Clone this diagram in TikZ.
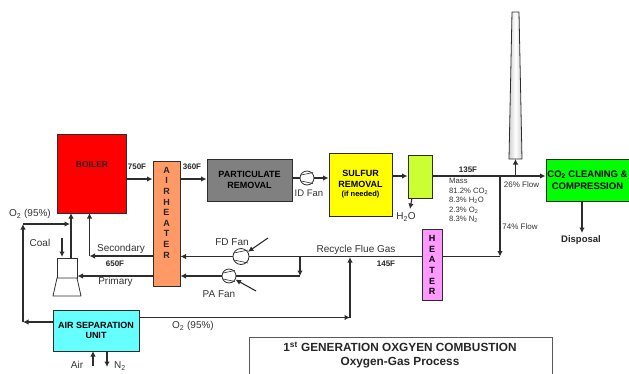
\documentclass[tikz,border=0pt]{standalone}
\usepackage{fontspec}
\setmainfont{Liberation Sans}
\usepackage{tikz}
\usetikzlibrary{arrows.meta,positioning,shapes.geometric}
\definecolor{lnblack}{RGB}{45,45,45}
\definecolor{plred}{RGB}{255,0,0}
\definecolor{plorange}{RGB}{255,153,102}
\definecolor{plgray}{RGB}{128,128,128}
\definecolor{plyellow}{RGB}{255,255,0}
\definecolor{pllime}{RGB}{204,255,51}
\definecolor{plpink}{RGB}{255,153,255}
\definecolor{plgreen}{RGB}{0,255,0}
\definecolor{plcyan}{RGB}{102,255,255}
\tikzset{
  unitbox/.style={draw=lnblack,line width=1pt,minimum width=#1,inner sep=0pt,align=center,font=\bfseries\fontsize{9}{10.5}\selectfont},
  fan/.style={draw=lnblack,fill=white,line width=0.8pt,circle,minimum size=14pt,inner sep=0pt},
  flow/.style={draw=lnblack,line width=1.1pt,-{Latex[length=5.5pt,width=5.5pt]}},
  pipe/.style={draw=lnblack,line width=1.1pt},
  tag/.style={font=\fontsize{10}{11}\selectfont,text=black!80,inner sep=0pt},
  smalltag/.style={font=\fontsize{8}{9}\selectfont,text=black!80,inner sep=0pt},
  boldtag/.style={font=\bfseries\fontsize{8}{10}\selectfont,text=black!85,inner sep=0pt}
}
\begin{document}
\begin{tikzpicture}[x=1pt,y=-1pt]
  \useasboundingbox (0,0) rectangle (629,373);
  % Units
  \node[unitbox=69pt,fill=plred,minimum height=79pt] (boiler) at (91.5,173.5) {};
  \node[boldtag,font=\bfseries\fontsize{8.5}{10}\selectfont] (boilertext) at (92,165) {BOILER};
  \node[unitbox=27pt,fill=plorange,minimum height=125pt] (airheater) at (166.5,223.5) {};
  \node[boldtag,align=center,font=\bfseries\fontsize{9}{10.6}\selectfont] (airheatertext) at (166.5,212.5) {A\\I\\R\\H\\E\\A\\T\\E\\R};
  \node[unitbox=85pt,fill=plgray,minimum height=42pt] (particulate) at (249.5,180) {PARTICULATE\\REMOVAL};
  \node[unitbox=63pt,fill=plyellow,minimum height=63pt] (sulfur) at (360.5,184.5) {SULFUR\\REMOVAL\\[-1pt]{\fontsize{7.5}{9}\selectfont(if needed)}};
  \node[unitbox=24pt,fill=pllime,minimum height=43pt] (condenser) at (420,176.5) {};
  \node[unitbox=20pt,fill=plpink,minimum height=71pt,font=\bfseries\fontsize{9}{10.6}\selectfont] (heater) at (432,265) {H\\E\\A\\T\\E\\R};
  \node[unitbox=83pt,fill=plgreen,minimum height=42pt,font=\bfseries\fontsize{9.5}{12}\selectfont] (cleaning) at (587.5,180) {CO\textsubscript{2} CLEANING \&\\COMPRESSION};
  \node[unitbox=86pt,fill=plcyan,minimum height=41pt] (asu) at (96,330.5) {AIR SEPARATION\\UNIT};
  \node[unitbox=303pt,minimum height=50pt,line width=1pt,draw=black!65] (titlebox) at (400.5,362) {};
  \node[align=center,font=\bfseries\fontsize{11.8}{14.5}\selectfont,inner sep=0pt,text=black!85] (titletext) at (400,355) {1\textsuperscript{st} GENERATION OXGYEN COMBUSTION\\Oxygen-Gas Process};
  % Stack and mill
  \draw[lnblack,line width=0.8pt,left color=black!18,right color=black!18,middle color=white] (512,12) -- (519,12) -- (522,159) -- (509,159) -- cycle;
  \coordinate (stackbase) at (515.5,159);
  \draw[lnblack,line width=0.8pt,fill=white] (57,258) rectangle (77,278);
  \draw[lnblack,line width=0.8pt,fill=white] (57,278) -- (77,278) -- (81,296) -- (53,296) -- cycle;
  \coordinate (milltop) at (71,258);
  \coordinate (millside) at (77.5,276);
  % Fans
  \node[fan] (idfan) at (307,178) {};
  \node[fan,minimum size=16pt] (fdfan) at (241,256.5) {};
  \node[fan] (pafan) at (229,276) {};
  \draw[lnblack,line width=0.6pt] (301,175) -- (313,172.5) (301,181) -- (313,183.5);
  \draw[lnblack,line width=0.6pt] (234,253) -- (248,250) (234,260) -- (248,263);
  \draw[lnblack,line width=0.6pt] (223,273) -- (235,270.5) (223,279) -- (235,281.5);
  % Gas path
  \draw[flow] (boiler.east |- 0,179) -- (airheater.west |- 0,179);
  \draw[flow] (airheater.east |- 0,179) -- (particulate.west |- 0,179);
  \draw[pipe] (particulate.east |- idfan) -- (idfan);
  \draw[flow] (idfan) -- (sulfur.west |- idfan);
  \draw[flow] (sulfur.east |- 0,176) -- (condenser.west |- 0,176);
  \draw[flow] (condenser.east |- 0,176) -- (cleaning.west |- 0,176);
  \coordinate (stackjoin) at (515.5,176);
  \coordinate (splitjoin) at (500,176);
  \coordinate (heaterjoin) at (500,256.5);
  \draw[flow] (stackjoin) -- (stackbase);
  \draw[flow] (splitjoin) -- (heaterjoin);
  \draw[pipe] (heaterjoin) -- (heater.east |- heaterjoin);
  \coordinate (h2oend) at (410,209);
  \coordinate (h2ostart) at (412,198);
  \draw[flow] (h2ostart) -- (h2oend);
  \coordinate (disposalend) at (582,233);
  \draw[flow] (cleaning.south -| disposalend) -- (disposalend);
  % Recycle
  \draw[pipe] (heater.west |- heaterjoin) -- (fdfan);
  \draw[flow] (fdfan) -- (airheater.east |- fdfan);
  \coordinate (padrop) at (300,256.5);
  \coordinate (paend) at (300,276);
  \draw[flow] (padrop) -- (paend);
  \draw[pipe] (paend) -- (pafan);
  \draw[flow] (pafan) -- (airheater.east |- pafan);
  \coordinate (fdair) at (268,238);
  \coordinate (paair) at (256,291);
  \draw[flow] (fdair) -- (fdfan);
  \draw[flow] (paair) -- (pafan);
  % Secondary and primary air
  \coordinate (seccorner) at (89.5,256);
  \coordinate (secend) at (89.5,213);
  \draw[flow] (airheater.west |- seccorner) -- (seccorner);
  \draw[flow] (seccorner) -- (secend);
  \draw[flow] (airheater.west |- millside) -- (millside);
  \coordinate (millend) at (71,213);
  \draw[flow] (milltop) -- (millend);
  \coordinate (coaltop) at (62,238);
  \coordinate (coalend) at (62,257);
  \draw[flow] (coaltop) -- (coalend);
  % Oxygen
  \coordinate (o2corner) at (23,322);
  \coordinate (o2top) at (23,224);
  \coordinate (o2end) at (70,224);
  \draw[flow] (asu.west |- o2corner) -- (o2corner);
  \draw[flow] (o2corner) -- (o2top);
  \draw[flow] (o2top) -- (o2end);
  \coordinate (rccorner) at (350,317.5);
  \coordinate (rcend) at (350,257);
  \draw[flow] (asu.east |- rccorner) -- (rccorner);
  \draw[flow] (rccorner) -- (rcend);
  \coordinate (airstart) at (93,366);
  \coordinate (airend) at (93,351);
  \coordinate (ntwostart) at (107,351);
  \coordinate (ntwoend) at (107,367);
  \draw[flow] (airstart) -- (airend);
  \draw[flow] (ntwostart) -- (ntwoend);
  % Labels
  \node[boldtag] (t750) at (137,167) {750F};
  \node[boldtag] (t360) at (192,167) {360F};
  \node[tag,font=\fontsize{9.5}{11}\selectfont] (tid) at (309,193) {ID Fan};
  \node[tag] (th2o) at (406,217) {H\textsubscript{2}O};
  \node[boldtag] (t135) at (468,170) {135F};
  \node[smalltag,align=left,anchor=north west,font=\fontsize{7.7}{9.5}\selectfont] (tmass) at (449,178) {Mass\\81.2\% CO\textsubscript{2}\\8.3\% H\textsubscript{2}O\\2.3\% O\textsubscript{2}\\8.3\% N\textsubscript{2}};
  \node[smalltag] (t26) at (521.5,185) {26\% Flow};
  \node[smalltag] (t74) at (520,227) {74\% Flow};
  \node[boldtag,font=\bfseries\fontsize{9.5}{10}\selectfont] (tdisp) at (581,240) {Disposal};
  \node[tag] (tfd) at (232,242) {FD Fan};
  \node[tag] (tpa) at (219,294) {PA Fan};
  \node[tag] (trec) at (356,250) {Recycle Flue Gas};
  \node[boldtag] (t145) at (386,264) {145F};
  \node[tag] (tsec) at (121,249) {Secondary};
  \node[boldtag] (t650) at (115,264) {650F};
  \node[tag] (tpri) at (115.5,282) {Primary};
  \node[tag] (tcoal) at (40,243) {Coal};
  \node[tag] (to2a) at (30,214) {O\textsubscript{2} (95\%)};
  \node[tag] (to2b) at (193,326) {O\textsubscript{2} (95\%)};
  \node[tag] (tair) at (77,365) {Air};
  \node[tag] (tn2) at (120,366) {N\textsubscript{2}};
\end{tikzpicture}
\end{document}
